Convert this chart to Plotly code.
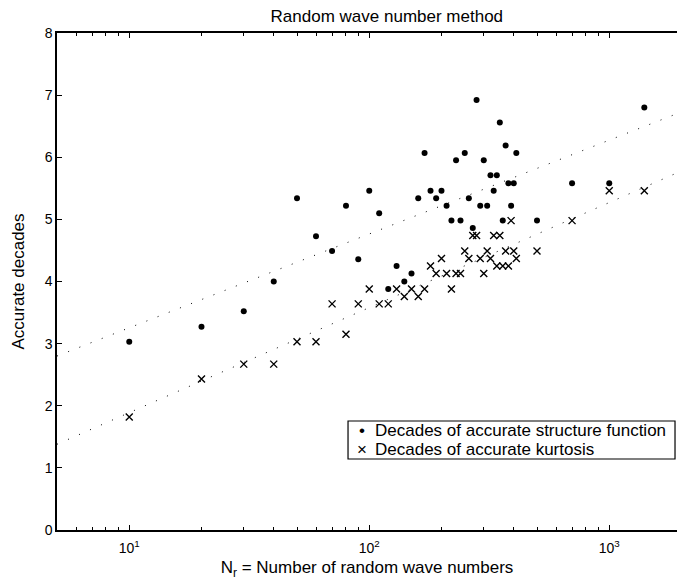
import plotly.graph_objects as go

# ---- data ----
N_values = [10, 20, 30, 40, 50, 60, 70, 80, 90, 100,
            110, 120, 130, 140, 150, 160, 170, 180, 190, 200,
            210, 220, 230, 240, 250, 260, 270, 280, 290, 300,
            310, 320, 330, 340, 350, 360, 370, 380, 390, 400,
            410, 500, 700, 1000, 1400]
structure_decades = [3.03, 3.27, 3.52, 4.00, 5.34, 4.73, 4.49, 5.22, 4.36, 5.46,
                     5.10, 3.88, 4.25, 4.00, 4.13, 5.34, 6.07, 5.46, 5.34, 5.46,
                     5.22, 4.98, 5.95, 4.98, 6.07, 5.34, 4.86, 6.92, 5.22, 5.95,
                     5.22, 5.71, 5.46, 5.71, 6.56, 4.98, 6.19, 5.58, 5.22, 5.58,
                     6.07, 4.98, 5.58, 5.58, 6.80]
kurtosis_decades = [1.82, 2.43, 2.67, 2.67, 3.03, 3.03, 3.64, 3.15, 3.64, 3.88,
                    3.64, 3.64, 3.88, 3.76, 3.88, 3.76, 3.88, 4.25, 4.13, 4.37,
                    4.13, 3.88, 4.13, 4.13, 4.49, 4.37, 4.74, 4.74, 4.37, 4.13,
                    4.49, 4.37, 4.74, 4.25, 4.74, 4.25, 4.49, 4.25, 4.98, 4.49,
                    4.37, 4.49, 4.98, 5.46, 5.46]
fit_N = [5, 2000]
fit_structure = [2.80, 6.73]
fit_kurtosis = [1.38, 5.78]
legend_labels = ["Decades of accurate structure function",
                 "Decades of accurate kurtosis"]
legend_symbols = ["\u2022", "\u00d7"]
x_tickvals = [10, 100, 1000]
x_ticktext = ["10<sup>1</sup>", "10<sup>2</sup>", "10<sup>3</sup>"]
x_minorvals = [6, 7, 8, 9, 20, 30, 40, 50, 60, 70, 80, 90,
               200, 300, 400, 500, 600, 700, 800, 900]
y_tickvals = [0, 1, 2, 3, 4, 5, 6, 7, 8]

FONT = "Liberation Sans, Arial, Helvetica, sans-serif"
LABEL_SIZE = 17
TICK_SIZE = 14

fig = go.Figure()
fig.add_trace(go.Scatter(x=fit_N, y=fit_structure, mode="lines",
                         line=dict(color="black", width=1, dash="1px,11px"),
                         showlegend=False, hoverinfo="skip"))
fig.add_trace(go.Scatter(x=fit_N, y=fit_kurtosis, mode="lines",
                         line=dict(color="black", width=1, dash="1px,11px"),
                         showlegend=False, hoverinfo="skip"))
fig.add_trace(go.Scatter(x=N_values, y=structure_decades, mode="markers",
                         name=legend_labels[0], showlegend=False,
                         marker=dict(symbol="circle", size=6, color="black")))
fig.add_trace(go.Scatter(x=N_values, y=kurtosis_decades, mode="markers",
                         name=legend_labels[1], showlegend=False,
                         marker=dict(symbol="x-thin", size=7,
                                     line=dict(color="black", width=1.4))))

# legend box drawn as a framed block (paper coordinates)
fig.add_shape(type="rect", xref="paper", yref="paper",
              x0=0.4694, x1=0.9968, y0=0.1429, y1=0.2193,
              line=dict(color="black", width=1.2), fillcolor="white", layer="above")
legend_rows_y = [0.2012, 0.1624]
for sym, lab, yy in zip(legend_symbols, legend_labels, legend_rows_y):
    fig.add_annotation(xref="paper", yref="paper", x=0.4919, y=yy,
                       text=sym, showarrow=False, xanchor="center", yanchor="middle",
                       font=dict(family=FONT, size=LABEL_SIZE, color="black"))
    fig.add_annotation(xref="paper", yref="paper", x=0.5097, y=yy,
                       text=lab, showarrow=False, xanchor="left", yanchor="middle",
                       font=dict(family=FONT, size=LABEL_SIZE, color="black"))

fig.update_layout(
    width=677, height=581,
    margin=dict(l=57, r=0, t=33, b=51),
    paper_bgcolor="white", plot_bgcolor="white",
    showlegend=False,
    font=dict(family=FONT, size=LABEL_SIZE, color="black"),
    title=dict(text="Random wave number method", x=0.532, xref="paper",
               xanchor="center", y=0.972, yanchor="middle",
               font=dict(family=FONT, size=LABEL_SIZE, color="black")),
    xaxis=dict(type="log", range=[0.69897, 3.2823], showgrid=False,
               zeroline=False, showline=True, linecolor="black", linewidth=1.5,
               mirror="ticks", ticks="inside", ticklen=5, tickcolor="black",
               tickvals=x_tickvals, ticktext=x_ticktext, ticklabelstandoff=4,
               tickfont=dict(family=FONT, size=TICK_SIZE, color="black"),
               minor=dict(tickvals=x_minorvals, ticks="inside", ticklen=3,
                          tickcolor="black", showgrid=False),
               title=dict(text="N<sub>r</sub> = Number of random wave numbers",
                          font=dict(family=FONT, size=LABEL_SIZE, color="black"),
                          standoff=7)),
    yaxis=dict(range=[0, 8], showgrid=False, zeroline=False, showline=True,
               linecolor="black", linewidth=1.5, mirror=False,
               ticks="inside", ticklen=5, tickcolor="black",
               tickvals=y_tickvals,
               tickfont=dict(family=FONT, size=TICK_SIZE, color="black"),
               title=dict(text="Accurate decades",
                          font=dict(family=FONT, size=LABEL_SIZE, color="black"),
                          standoff=16)),
)

fig.write_html("out.html",
               config={"displayModeBar": False},
               post_script="document.body.style.margin='0';"
                           "document.documentElement.style.overflow='hidden';")
